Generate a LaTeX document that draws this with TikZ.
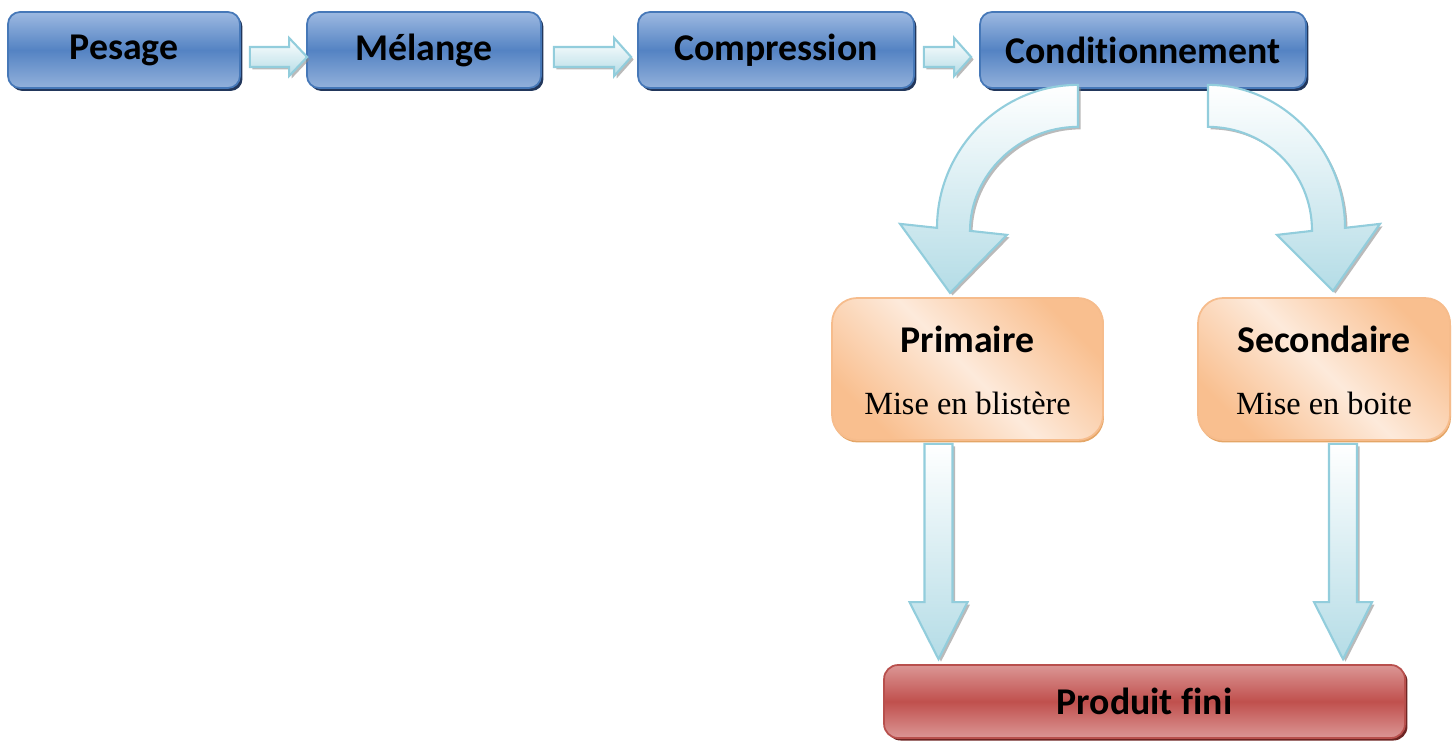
\documentclass[tikz,border=0pt]{standalone}
\usepackage{fontspec}
\setmainfont{Carlito}[Ligatures=NoCommon]
\newfontfamily\timesfont{Liberation Serif}
\usetikzlibrary{positioning,calc,shadows}
\definecolor{vbluetop}{HTML}{9DB9E1}
\definecolor{vbluemid}{HTML}{5483C3}
\definecolor{vbluebot}{HTML}{93B1DB}
\definecolor{vblueline}{HTML}{4678B8}
\definecolor{vblueshadow}{HTML}{22375C}
\definecolor{vorangelight}{HTML}{FDEADB}
\definecolor{vorangedark}{HTML}{F9BF8F}
\definecolor{vorangeline}{HTML}{F6BC8C}
\definecolor{vredtop}{HTML}{DB9695}
\definecolor{vredmid}{HTML}{C0504D}
\definecolor{vredline}{HTML}{B8504D}
\definecolor{vredshadow}{HTML}{6E2523}
\definecolor{varrow}{HTML}{B4DCE6}
\definecolor{varrowline}{HTML}{92CDDC}

\tikzset{
	etape/.style={rectangle, rounded corners=0.24cm, draw=vblueline, line width=1pt,
		top color=vbluetop, bottom color=vbluebot, middle color=vbluemid,
		minimum height=1.52cm, inner sep=0pt,
		font=\bfseries\fontsize{21.5}{25}\selectfont,
		drop shadow={shadow xshift=0.05cm, shadow yshift=-0.06cm, fill=vblueshadow, opacity=1}},
	emballage/.style={rectangle, rounded corners=0.5cm, draw=vorangeline, line width=1pt,
		top color=vorangedark, bottom color=vorangedark, middle color=vorangelight, shading angle=-45,
		minimum height=2.84cm, inner sep=0pt,
		drop shadow={shadow xshift=0.02cm, shadow yshift=-0.05cm, fill=brown!60!orange, opacity=0.7}},
	final/.style={rectangle, rounded corners=0.28cm, draw=vredline, line width=1pt,
		top color=vredtop, bottom color=vredtop, middle color=vredmid,
		minimum height=1.46cm, minimum width=10.42cm, inner sep=0pt,
		font=\bfseries\fontsize{21.5}{25}\selectfont,
		drop shadow={shadow xshift=0.05cm, shadow yshift=-0.05cm, fill=vredshadow, opacity=1}},
	titre/.style={font=\bfseries\fontsize{21.5}{25}\selectfont, inner sep=0pt},
	soustitre/.style={font=\timesfont\fontsize{18.4}{22}\selectfont, inner sep=0pt},
	fleche/.style={top color=white, bottom color=varrow, draw=varrowline, line width=1.2pt, line join=miter,
		drop shadow={shadow xshift=0.05cm, shadow yshift=-0.05cm, fill=black!45, opacity=0.6}}
}

\begin{document}
\begin{tikzpicture}[x=0.02cm, y=-0.02cm]
	\useasboundingbox (0,0) rectangle (1452,740);

	% etapes du procede
	\node[etape, minimum width=4.64cm] (pes) at (124,50) {Pesage};
	\node[etape, minimum width=4.68cm] (mel) at (424,50) {Mélange};
	\node[etape, minimum width=5.52cm] (comp) at (776,50) {Compression};
	\node[etape, minimum width=6.52cm] (cond) at (1143,50) {Conditionnement};

	% conditionnement primaire et secondaire
	\node[emballage, minimum width=5.42cm] (prim) at (967.5,369) {};
	\node[emballage, minimum width=5.04cm] (sec) at (1324,369) {};
	\node[titre] (primT) at ($(prim.north)+(0,42)$) {Primaire};
	\node[soustitre] (primS) at ($(prim.north)+(0,106)$) {Mise en blistère};
	\node[titre] (secT) at ($(sec.north)+(0,42)$) {Secondaire};
	\node[soustitre] (secS) at ($(sec.north)+(0,106)$) {Mise en boite};

	\node[final] (fini) at (1144.5,701.5) {Produit fini};

	% petites fleches horizontales
	\path[fleche] ($(pes.east)+(9,-3)$) -- ($(mel.west)+(-17,-3)$) -- ($(mel.west)+(-17,-12)$) -- ($(mel.west)+(1,7)$)
		-- ($(mel.west)+(-17,26)$) -- ($(mel.west)+(-17,17)$) -- ($(pes.east)+(9,17)$) -- cycle;
	\path[fleche] ($(mel.east)+(12,-3)$) -- ($(comp.west)+(-23,-3)$) -- ($(comp.west)+(-23,-12)$) -- ($(comp.west)+(-6,7)$)
		-- ($(comp.west)+(-23,26)$) -- ($(comp.west)+(-23,17)$) -- ($(mel.east)+(12,17)$) -- cycle;
	\path[fleche] ($(comp.east)+(9,-3)$) -- ($(cond.west)+(-25,-3)$) -- ($(cond.west)+(-25,-12)$) -- ($(cond.west)+(-8,7)$)
		-- ($(cond.west)+(-25,26)$) -- ($(cond.west)+(-25,17)$) -- ($(comp.east)+(9,17)$) -- cycle;

	% fleches courbes vers primaire / secondaire
	\begin{scope}[shift={(cond.south)}]
		\path[fleche] (-65,-4) .. controls (-143,-4) and (-206,61) .. (-206,139)
			-- (-243,135) -- (-193,204) -- (-136,146) -- (-173,142)
			.. controls (-173,86) and (-124,38) .. (-65,38) -- cycle;
		\path[fleche] (65,-4) .. controls (140,-4) and (202,61) .. (202,139)
			-- (237,135) -- (190,202) -- (134,146) -- (169,142)
			.. controls (169,83) and (122,38) .. (65,38) -- cycle;
	\end{scope}

	% fleches droites vers le produit fini
	\coordinate (hautA) at ($(prim.south)+(-29,3)$);
	\coordinate (basA) at (hautA |- fini.north);
	\coordinate (hautB) at ($(sec.south)+(19,3)$);
	\coordinate (basB) at (hautB |- fini.north);
	\path[fleche] ($(hautA)+(-14,0)$) -- ($(basA)+(-14,-62)$) -- ($(basA)+(-29,-62)$) -- ($(basA)+(0,-5)$)
		-- ($(basA)+(29,-62)$) -- ($(basA)+(14,-62)$) -- ($(hautA)+(14,0)$) -- cycle;
	\path[fleche] ($(hautB)+(-14,0)$) -- ($(basB)+(-14,-62)$) -- ($(basB)+(-29,-62)$) -- ($(basB)+(0,-5)$)
		-- ($(basB)+(29,-62)$) -- ($(basB)+(14,-62)$) -- ($(hautB)+(14,0)$) -- cycle;
\end{tikzpicture}
\end{document}
